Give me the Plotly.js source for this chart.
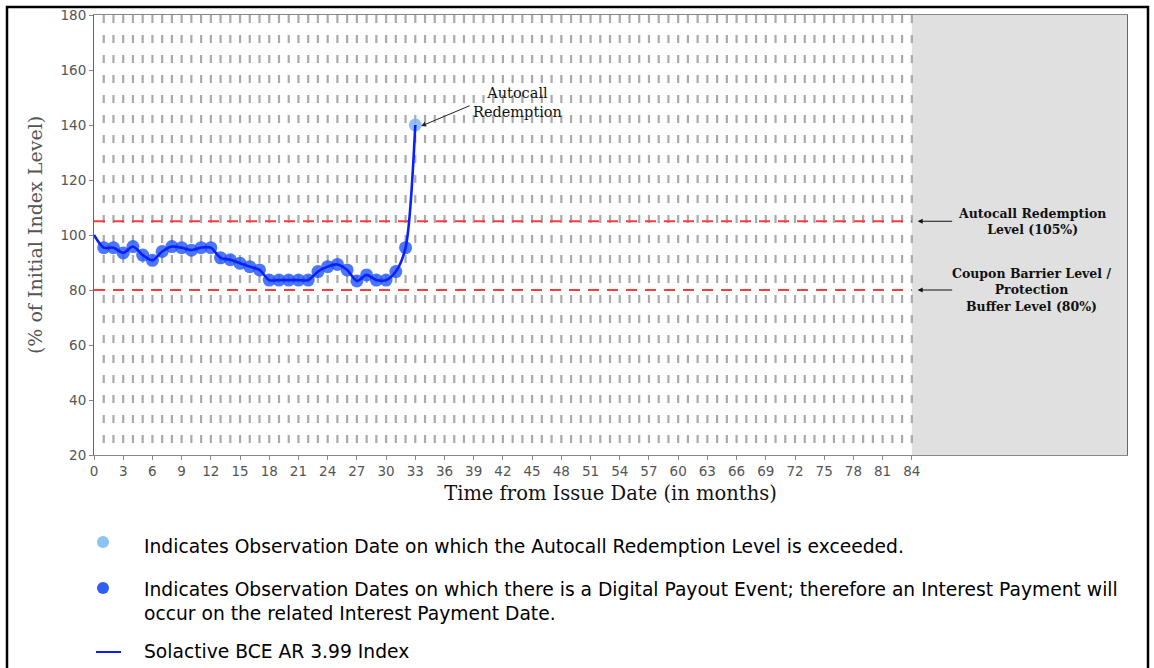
<!DOCTYPE html>
<html>
<head>
<meta charset="utf-8">
<script src="https://cdn.plot.ly/plotly-3.0.1.min.js"></script>
<style>
  html, body { margin: 0; padding: 0; background: #fff; }
  #chart { width: 1154px; height: 668px; }
</style>
</head>
<body>
<div id="chart"></div>
<script>
// ---- data ----
const months = [0,1,2,3,4,5,6,7,8,9,10,11,12,13,14,15,16,17,18,19,20,21,22,23,24,25,26,27,28,29,30,31,32,33];
const indexLevel = [100,95.4,95.4,93.5,95.8,92.7,90.8,94.0,95.8,95.4,94.5,95.4,95.4,91.7,91.0,89.7,88.5,87.3,83.6,83.6,83.6,83.6,83.6,86.7,88.5,89.3,87.3,83.3,85.5,83.6,83.6,86.7,95.4,140];
const payoutMonths = [1,2,3,4,5,6,7,8,9,10,11,12,13,14,15,16,17,18,19,20,21,22,23,24,25,26,27,28,29,30,31,32];
const autocallMonths = [33];
const autocallLevel = 105;
const barrierLevel = 80;
const maturityMonth = 84;
const xTickVals = [0,3,6,9,12,15,18,21,24,27,30,33,36,39,42,45,48,51,54,57,60,63,66,69,72,75,78,81,84];
const yTickVals = [20,40,60,80,100,120,140,160,180];
const legendTexts = [
  "Indicates Observation Date on which the Autocall Redemption Level is exceeded.",
  "Indicates Observation Dates on which there is a Digital Payout Event; therefore an Interest Payment will<br>occur on the related Interest Payment Date.",
  "Solactive BCE AR 3.99 Index"
];
const seriesName = "Solactive BCE AR 3.99 Index";

const levelAt = m => indexLevel[months.indexOf(m)];

// ---- geometry helpers (layout only) ----
const W = 1154, H = 668;
const M = {l: 94, r: 27, t: 15, b: 213};
const plotW = W - M.l - M.r, plotH = H - M.t - M.b;
const px = x => (x - M.l) / plotW;      // page px -> paper x
const py = y => (H - M.b - y) / plotH;  // page px -> paper y
const X_MAX = 106.1;

const serif = "DejaVu Serif, Liberation Serif, serif";
const sans = "DejaVu Sans, Liberation Sans, Arial, sans-serif";

const traces = [
  {
    x: payoutMonths, y: payoutMonths.map(levelAt),
    mode: "markers", type: "scatter", showlegend: false, hoverinfo: "skip",
    marker: {size: 13, color: "rgba(30,85,250,0.8)", line: {width: 0}}
  },
  {
    x: autocallMonths, y: autocallMonths.map(levelAt),
    mode: "markers", type: "scatter", showlegend: false, hoverinfo: "skip",
    marker: {size: 13, color: "rgba(125,180,248,0.85)", line: {width: 0}}
  },
  {
    x: months, y: indexLevel, name: seriesName,
    mode: "lines", type: "scatter", showlegend: false,
    line: {color: "#0a1eff", width: 2.6, shape: "spline", smoothing: 0.8}
  }
];

const shapes = [];
// shaded post-maturity region
shapes.push({type: "rect", xref: "x", yref: "paper", x0: maturityMonth, x1: X_MAX, y0: 0, y1: 1,
  fillcolor: "#e0e0e0", line: {width: 0}, layer: "below"});
// monthly observation grid (dashed verticals)
for (let m = 1; m <= maturityMonth; m++) {
  shapes.push({type: "line", xref: "x", yref: "paper", x0: m, x1: m, y0: 1, y1: 0,
    line: {color: "#aaaaaa", width: 2.2, dash: "8px,12px"}, layer: "below"});
}
// level lines
[autocallLevel, barrierLevel].forEach(v => {
  shapes.push({type: "line", xref: "x", yref: "y", x0: 0, x1: maturityMonth, y0: v, y1: v,
    line: {color: "#ff3a3a", width: 2.2, dash: "11px,8px"}, layer: "below"});
});
// legend symbols
shapes.push({type: "circle", xref: "paper", yref: "paper",
  x0: px(97), x1: px(109), y0: py(548), y1: py(536), fillcolor: "#8dc2f6", line: {width: 0}});
shapes.push({type: "circle", xref: "paper", yref: "paper",
  x0: px(97), x1: px(109), y0: py(594), y1: py(582), fillcolor: "#2f5ff2", line: {width: 0}});
shapes.push({type: "line", xref: "paper", yref: "paper",
  x0: px(96), x1: px(121), y0: py(652), y1: py(652), line: {color: "#0a1eff", width: 2}});
// outer frame
shapes.push({type: "rect", xref: "paper", yref: "paper",
  x0: px(7), x1: px(1148), y0: py(690), y1: py(7), line: {color: "#000", width: 2.5}, fillcolor: "rgba(0,0,0,0)"});

const annotations = [
  // autocall arrow + text
  {x: 33.6, y: 139.6, xref: "x", yref: "y", text: "", showarrow: true,
   ax: 50, ay: -21, arrowhead: 2, arrowsize: 1, arrowwidth: 1, arrowcolor: "#222"},
  {x: 43.5, y: 148.3, xref: "x", yref: "y", text: "Autocall<br>Redemption", showarrow: false,
   font: {family: serif, size: 14.5, color: "#111"}, xanchor: "center", yanchor: "middle"},
  // right side arrows
  {x: 84.6, y: autocallLevel, xref: "x", yref: "y", text: "", showarrow: true,
   ax: 36, ay: 0, arrowhead: 2, arrowsize: 1, arrowwidth: 1, arrowcolor: "#111"},
  {x: 84.6, y: barrierLevel, xref: "x", yref: "y", text: "", showarrow: true,
   ax: 36, ay: 0, arrowhead: 2, arrowsize: 1, arrowwidth: 1, arrowcolor: "#111"},
  {x: 96.3, y: autocallLevel, xref: "x", yref: "y", showarrow: false,
   text: "<b>Autocall Redemption<br>Level (105%)</b>",
   font: {family: serif, size: 12.5, color: "#111"}, xanchor: "center", yanchor: "middle"},
  {x: 96.3, y: barrierLevel, xref: "x", yref: "y", showarrow: false,
   text: "<b>Coupon Barrier Level /<br>Protection<br>Buffer Level (80%)</b>",
   font: {family: serif, size: 12.5, color: "#111"}, xanchor: "center", yanchor: "middle"},
  // legend texts
  {x: px(142), y: py(546), xref: "paper", yref: "paper", text: legendTexts[0], showarrow: false,
   xanchor: "left", yanchor: "middle", align: "left", font: {family: sans, size: 18.7, color: "#000"}},
  {x: px(142), y: py(601), xref: "paper", yref: "paper", text: legendTexts[1], showarrow: false,
   xanchor: "left", yanchor: "middle", align: "left", font: {family: sans, size: 18.7, color: "#000"}},
  {x: px(142), y: py(651), xref: "paper", yref: "paper", text: legendTexts[2], showarrow: false,
   xanchor: "left", yanchor: "middle", align: "left", font: {family: sans, size: 18.7, color: "#000"}}
];

const layout = {
  width: W, height: H,
  margin: M,
  paper_bgcolor: "#fff", plot_bgcolor: "#fff",
  showlegend: false,
  xaxis: {
    range: [0, X_MAX], tickvals: xTickVals, ticktext: xTickVals.map(String),
    showgrid: false, zeroline: false, ticks: "outside", ticklen: 4, tickcolor: "#888",
    showline: true, linecolor: "#888", linewidth: 1, mirror: true,
    tickfont: {family: "DejaVu Sans, sans-serif", size: 13.5, color: "#555"},
    title: {text: "Time from Issue Date (in months)", font: {family: serif, size: 19.5, color: "#111"}, standoff: 8}
  },
  yaxis: {
    range: [20, 180], tickvals: yTickVals,
    showgrid: false, zeroline: false, ticks: "outside", ticklen: 4, tickcolor: "#888",
    showline: true, linecolor: "#666", linewidth: 1, mirror: true,
    tickfont: {family: "DejaVu Sans, sans-serif", size: 13.5, color: "#555"},
    title: {text: "(% of Initial Index Level)", font: {family: serif, size: 19, color: "#555"}, standoff: 12}
  },
  shapes: shapes,
  annotations: annotations
};

Plotly.newPlot("chart", traces, layout, {displayModeBar: false, staticPlot: true});
</script>
</body>
</html>
